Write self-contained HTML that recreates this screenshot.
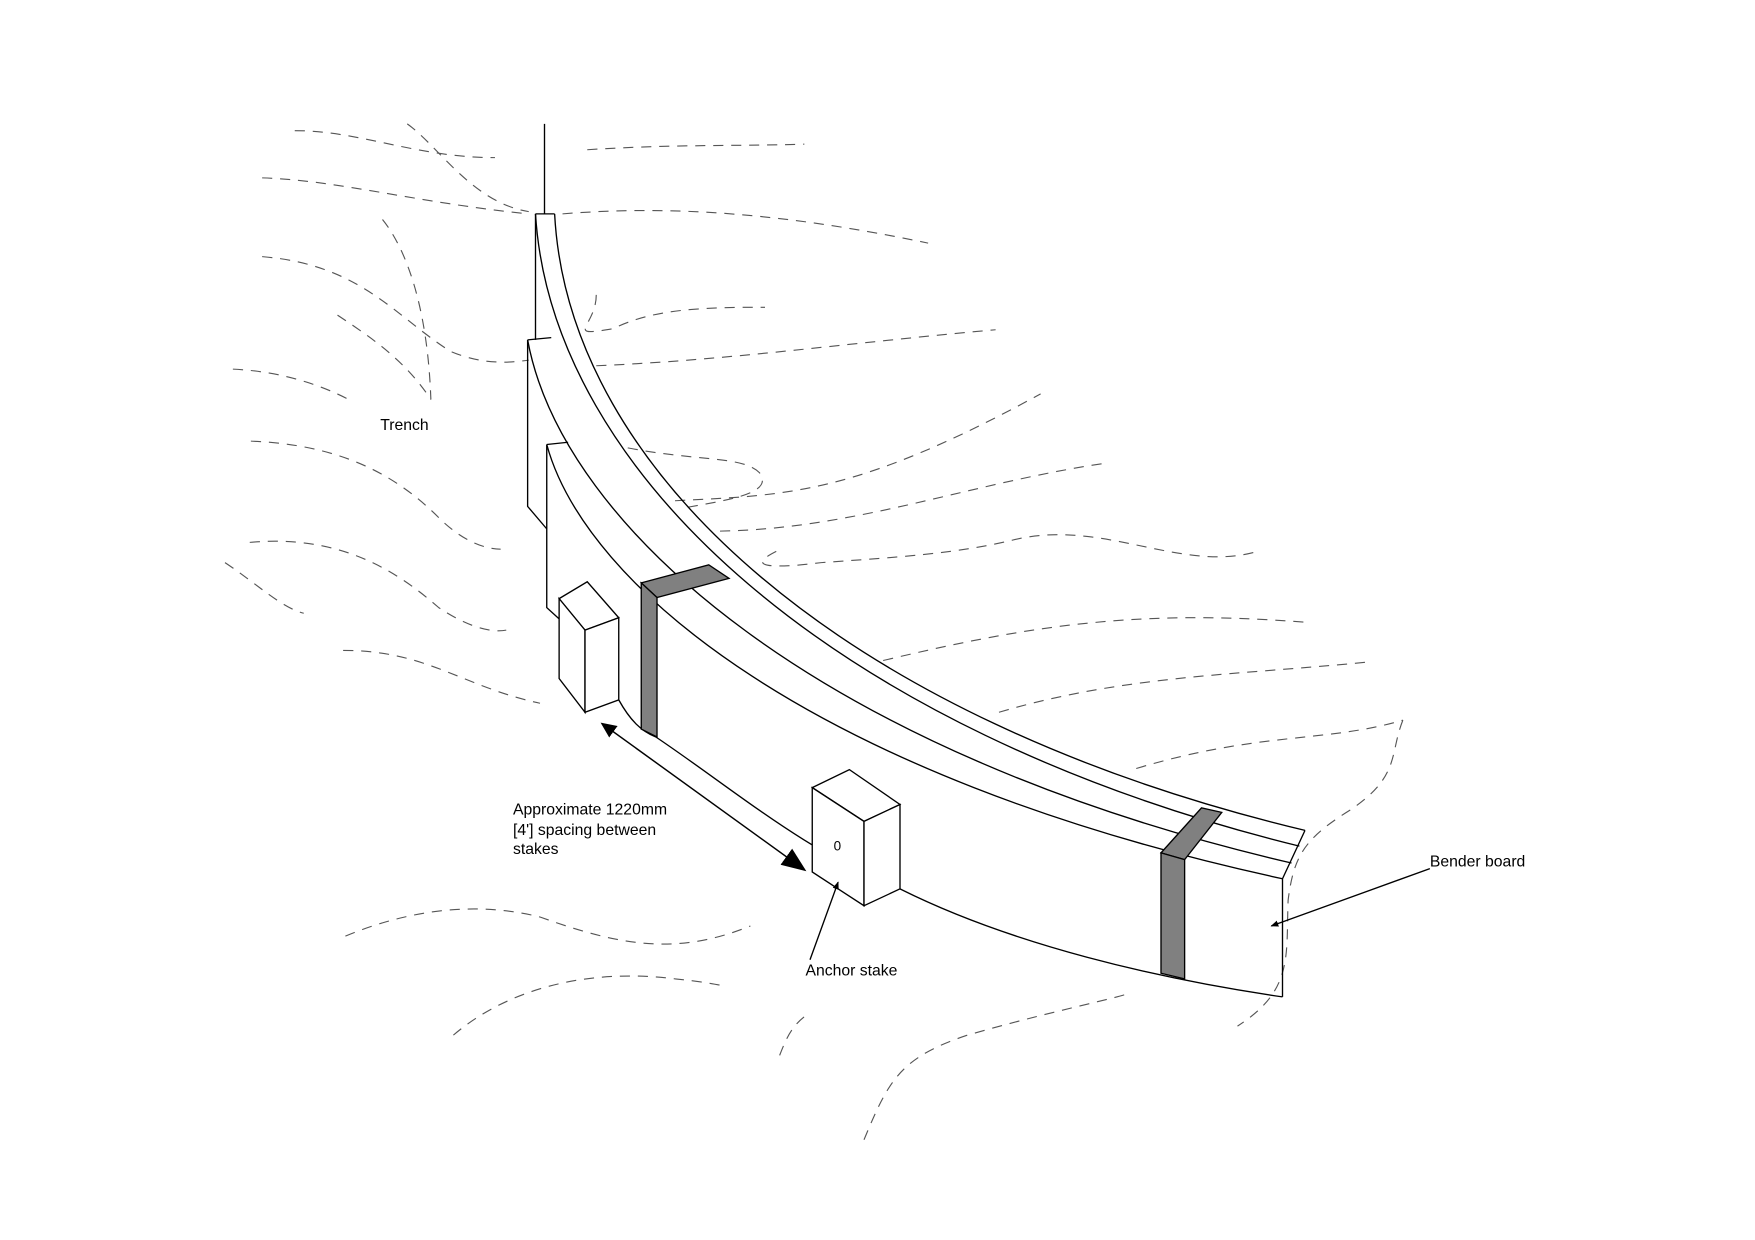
<!DOCTYPE html>
<html><head><meta charset="utf-8"><style>
html,body{margin:0;padding:0;background:#fff;}
svg{display:block;}
text{font-family:"Liberation Sans",Arial,sans-serif;font-size:14px;fill:#000;}
</style></head><body>
<svg width="1755" height="1240" viewBox="0 0 1560 1102" xmlns="http://www.w3.org/2000/svg">
<defs>
<marker id="ah" viewBox="0 0 10 10" refX="9" refY="5" markerWidth="14" markerHeight="14" markerUnits="userSpaceOnUse" orient="auto-start-reverse"><path d="M0,0.5 L10,5 L0,9.5 z" fill="#000"/></marker>
<marker id="ah2" viewBox="0 0 10 10" refX="9" refY="5" markerWidth="22" markerHeight="22" markerUnits="userSpaceOnUse" orient="auto"><path d="M0,1 L10,5 L0,9 z" fill="#000"/></marker>
<marker id="ahs" viewBox="0 0 10 10" refX="9" refY="5" markerWidth="7" markerHeight="7" markerUnits="userSpaceOnUse" orient="auto"><path d="M0,1 L10,5 L0,9 z" fill="#000"/></marker>
</defs>
<g fill="none" stroke="#555" stroke-width="1" stroke-dasharray="9 7">
<path d="M262,116 C320,116 370,140 440,140"/>
<path d="M362,110 C390,130 420,180 470,188"/>
<path d="M233,158 C300,160 370,180 470,190"/>
<path d="M233,228 C320,235 350,280 400,312 C430,325 455,322 470,320"/>
<path d="M340,195 C360,220 380,270 383,355"/>
<path d="M522,133 C600,128 650,130 715,128"/>
<path d="M500,190 C600,182 700,190 825,216"/>
<path d="M530,262 C530,290 500,300 545,292 C580,275 620,273 680,273"/>
<path d="M530,325 C650,320 750,305 885,293"/>
<path d="M207,328 C250,330 285,342 310,355"/>
<path d="M300,280 C330,300 360,320 383,355"/>
<path d="M223,392 C300,395 350,420 390,460 C410,480 430,488 445,488"/>
<path d="M222,482 C300,475 350,505 390,540 C420,560 440,562 450,560"/>
<path d="M305,578 C380,578 410,610 480,625"/>
<path d="M558,398 C620,410 660,405 675,420 C690,440 640,445 605,452"/>
<path d="M600,445 C700,440 760,440 925,350"/>
<path d="M640,472 C760,470 860,430 980,412"/>
<path d="M690,490 C660,505 690,505 730,500 C800,495 850,492 900,480 C980,460 1050,510 1118,490"/>
<path d="M785,587 C900,560 1000,540 1160,553"/>
<path d="M888,633 C1000,600 1100,600 1220,588"/>
<path d="M1010,683 C1120,650 1180,660 1247,640"/>
<path d="M1247,640 C1235,670 1245,690 1200,720 C1160,745 1150,760 1145,800 C1143,850 1150,880 1100,912"/>
<path d="M307,832 C360,810 420,800 480,815 C550,840 600,850 667,823"/>
<path d="M403,920 C450,880 520,860 600,870 C620,872 640,875 645,877"/>
<path d="M693,938 C700,920 705,910 720,900"/>
<path d="M768,1013 C790,960 800,940 860,920 C930,900 980,890 1000,884"/>
<path d="M200,500 C230,520 250,540 270,545"/>
</g>
<g fill="none" stroke="#000" stroke-width="1.2">
<line x1="484" y1="110" x2="484" y2="190"/>
<path d="M476,190 L493,190"/>
<path d="M493,190 C505,420 750,640 1160,738"/>
<path d="M476,190 L476,302"/>
<path d="M476,190 C490,420 740,650 1155,752"/>
<path d="M469,302 L490,300"/>
<path d="M469,302 C500,470 730,670 1148,767"/>
<path d="M469,302 L469,450 L486,470"/>
<path d="M486,395 L505,393"/>
<path d="M486,395 C520,520 720,690 1140,781"/>
<path d="M486,395 L486,540 L497,550"/>
<path d="M1160,738 L1140,781 L1140,886"/>
<path d="M550,622 C560,640 570,650 583,655 C650,700 720,760 800,790 C900,840 1030,870 1140,886"/>
</g>
<polygon points="570,518 630,502 648,514 584,531" fill="#808080" stroke="#000" stroke-width="1.2"/>
<polygon points="570,518 584,531 584,655 570,648" fill="#808080" stroke="#000" stroke-width="1.2"/>
<polygon points="1032,758 1068,718 1086,722 1053,764" fill="#808080" stroke="#000" stroke-width="1.2"/>
<polygon points="1032,758 1053,764 1053,870 1032,865" fill="#808080" stroke="#000" stroke-width="1.2"/>
<g fill="#fff" stroke="#000" stroke-width="1.2">
<polygon points="497,532 522,517 550,549 520,560"/>
<polygon points="497,532 520,560 520,633 497,603"/>
<polygon points="520,560 550,549 550,622 520,633"/>
<polygon points="722,700 755,684 800,715 768,730"/>
<polygon points="722,700 768,730 768,805 722,775"/>
<polygon points="768,730 800,715 800,790 768,805"/>
</g>
<text x="741" y="756" style="font-size:12px">0</text>
<line x1="535" y1="643" x2="715" y2="773" stroke="#000" stroke-width="1.3" marker-start="url(#ah)" marker-end="url(#ah2)"/>
<line x1="720" y1="853" x2="745" y2="784" stroke="#000" stroke-width="1.2" marker-end="url(#ahs)"/>
<line x1="1271" y1="772" x2="1130" y2="823" stroke="#000" stroke-width="1.2" marker-end="url(#ahs)"/>
<text x="338" y="382">Trench</text>
<text x="456" y="724">Approximate 1220mm</text>
<text x="456" y="742">[4'] spacing between</text>
<text x="456" y="759">stakes</text>
<text x="716" y="867">Anchor stake</text>
<text x="1271" y="770">Bender board</text>
</svg>
</body></html>
